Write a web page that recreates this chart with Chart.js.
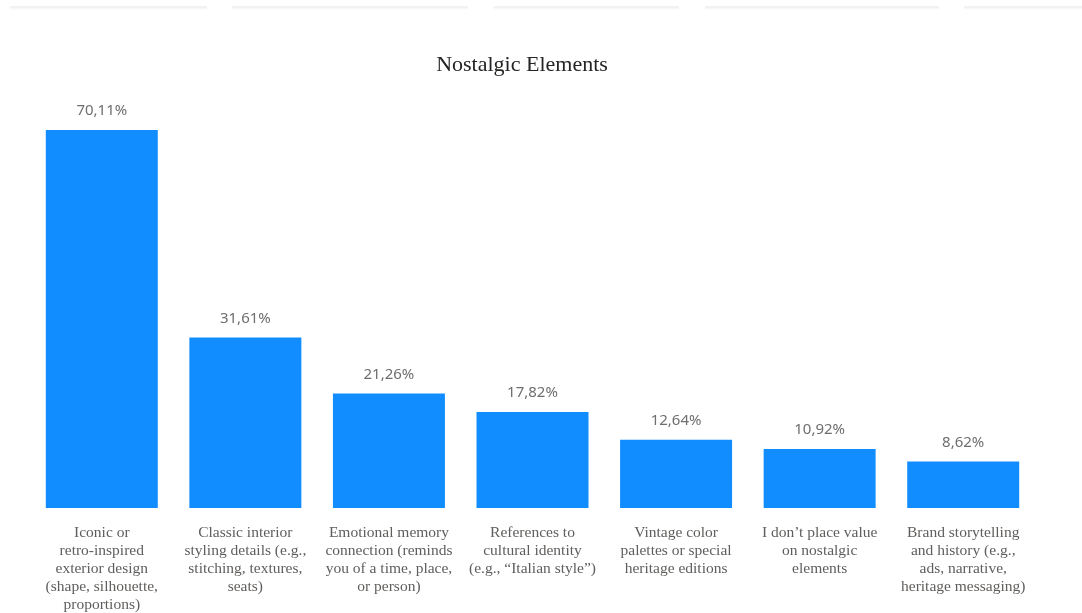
<!DOCTYPE html>
<html>
<head>
<meta charset="utf-8">
<title>Nostalgic Elements</title>
<script src="https://cdn.jsdelivr.net/npm/chart.js@4/dist/chart.umd.min.js"></script>
<style>
  html, body { margin: 0; padding: 0; background: #fff; }
  #wrap { position: relative; width: 1082px; height: 613px; }
  .tab { position: absolute; top: 6px; height: 2px; background: #f2f2f2; box-shadow: 0 1px 2px rgba(0,0,0,0.05); }
</style>
</head>
<body>
<div id="wrap">
  <div class="tab" style="left:10px;width:197px"></div>
  <div class="tab" style="left:232px;width:236px"></div>
  <div class="tab" style="left:494px;width:185px"></div>
  <div class="tab" style="left:705px;width:234px"></div>
  <div class="tab" style="left:964px;width:118px"></div>
  <canvas id="chart" width="1082" height="613"></canvas>
</div>
<script>
// categories, one array of lines per bar
var categories = [
  ["Iconic or", "retro-inspired", "exterior design", "(shape, silhouette,", "proportions)"],
  ["Classic interior", "styling details (e.g.,", "stitching, textures,", "seats)"],
  ["Emotional memory", "connection (reminds", "you of a time, place,", "or person)"],
  ["References to", "cultural identity", "(e.g., \u201cItalian style\u201d)"],
  ["Vintage color", "palettes or special", "heritage editions"],
  ["I don\u2019t place value", "on nostalgic", "elements"],
  ["Brand storytelling", "and history (e.g.,", "ads, narrative,", "heritage messaging)"]
];
var shares = [70.11, 31.61, 21.26, 17.82, 12.64, 10.92, 8.62];
var chartTitle = 'Nostalgic Elements';

function fmtPct(v) {
  return v.toFixed(2).replace('.', ',') + '%';
}

// value labels above each bar
var valueLabels = {
  id: 'valueLabels',
  afterDatasetsDraw: function (chart) {
    var ctx = chart.ctx;
    var meta = chart.getDatasetMeta(0);
    ctx.save();
    ctx.font = '15px "Noto Sans", "Open Sans", sans-serif';
    ctx.fillStyle = '#6e6e6e';
    ctx.textAlign = 'center';
    ctx.textBaseline = 'middle';
    meta.data.forEach(function (bar, i) {
      ctx.fillText(fmtPct(shares[i]), bar.x, bar.y - 19);
    });
    ctx.restore();
  }
};

// title sits a little left of the plot centre
var titleText = {
  id: 'titleText',
  afterDraw: function (chart) {
    var ctx = chart.ctx;
    ctx.save();
    ctx.font = '22px "Liberation Serif", serif';
    ctx.fillStyle = '#252423';
    ctx.textAlign = 'center';
    ctx.textBaseline = 'middle';
    ctx.fillText(chartTitle, 522, 65);
    ctx.restore();
  }
};

var c = document.getElementById('chart').getContext('2d');
new Chart(c, {
  type: 'bar',
  data: {
    labels: categories,
    datasets: [{
      data: shares,
      backgroundColor: '#118DFF',
      borderWidth: 0,
      barPercentage: 0.78,
      categoryPercentage: 1
    }]
  },
  options: {
    responsive: false,
    animation: false,
    layout: {
      padding: { left: 30, right: 47, top: 130, bottom: 0 }
    },
    plugins: {
      legend: { display: false },
      tooltip: { enabled: false },
      title: { display: false }
    },
    scales: {
      y: {
        display: false,
        min: 0,
        max: Math.max.apply(null, shares)
      },
      x: {
        grid: { display: false, drawTicks: false },
        border: { display: false },
        ticks: {
          autoSkip: false,
          maxRotation: 0,
          minRotation: 0,
          padding: 16,
          color: '#605E5C',
          font: { family: '"Liberation Serif", serif', size: 15.5, lineHeight: 1.16 }
        },
        afterFit: function (scale) { scale.height = 105; }
      }
    }
  },
  plugins: [valueLabels, titleText]
});
</script>
</body>
</html>
